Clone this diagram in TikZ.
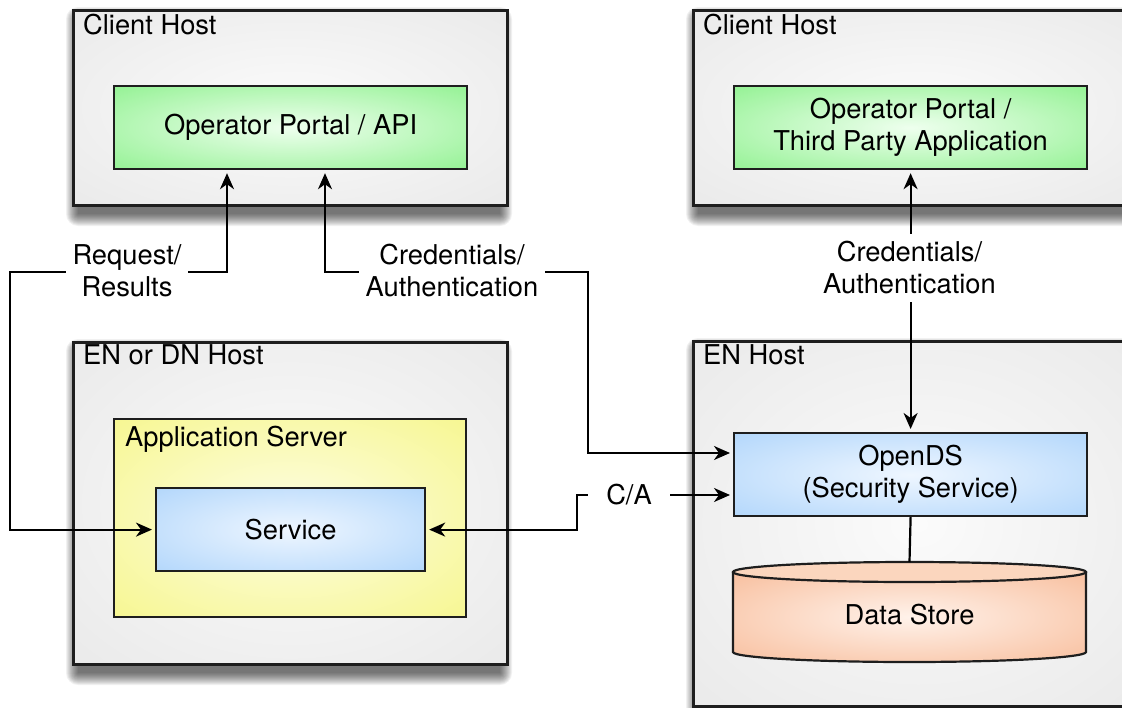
\documentclass[tikz,border=0pt]{standalone}
\usepackage{fontspec}
\setmainfont{TeX Gyre Heros}
\usetikzlibrary{arrows.meta}

\definecolor{boxline}{RGB}{30,30,30}
\definecolor{grayIn}{RGB}{251,251,251}
\definecolor{grayOut}{RGB}{229,229,229}
\definecolor{greenIn}{RGB}{238,255,238}
\definecolor{greenOut}{RGB}{122,238,122}
\definecolor{blueIn}{RGB}{238,246,255}
\definecolor{blueOut}{RGB}{162,206,250}
\definecolor{yellowIn}{RGB}{253,253,228}
\definecolor{yellowOut}{RGB}{245,245,122}
\definecolor{orangeIn}{RGB}{255,242,234}
\definecolor{orangeOut}{RGB}{246,176,136}
\definecolor{orangeTop}{RGB}{251,214,190}

\pgfdeclareradialshading{grayshade}{\pgfpointorigin}{color(0bp)=(grayIn); color(46bp)=(grayOut); color(50bp)=(grayOut)}
\pgfdeclareradialshading{greenshade}{\pgfpointorigin}{color(0bp)=(greenIn); color(46bp)=(greenOut); color(50bp)=(greenOut)}
\pgfdeclareradialshading{blueshade}{\pgfpointorigin}{color(0bp)=(blueIn); color(46bp)=(blueOut); color(50bp)=(blueOut)}
\pgfdeclareradialshading{yellowshade}{\pgfpointorigin}{color(0bp)=(yellowIn); color(46bp)=(yellowOut); color(50bp)=(yellowOut)}
\pgfdeclareradialshading{orangeshade}{\pgfpointorigin}{color(0bp)=(orangeIn); color(46bp)=(orangeOut); color(50bp)=(orangeOut)}

\newcommand{\hostshadow}[4]{%
  \foreach \r in {0,...,12}{%
    \fill[black, opacity=0.055, rounded corners=\r pt]
      ({#1+6-\r},{#2+10-\r}) rectangle ({#3-6+\r},{#4+10+\r});}}

\begin{document}
\begin{tikzpicture}[x=1pt,y=-1pt,
  font=\fontsize{27.3}{32}\selectfont,
  >={Stealth[length=16pt,width=14pt,inset=5pt]},
  host/.style={draw=boxline, line width=2.5pt, shading=grayshade,
    anchor=north west, inner sep=0pt},
  inbox/.style={draw=boxline, line width=2.2pt, anchor=north west, inner sep=0pt, align=center},
  greenbox/.style={inbox, shading=greenshade},
  bluebox/.style={inbox, shading=blueshade},
  yellowbox/.style={inbox, shading=yellowshade},
  title/.style={anchor=base west, inner sep=0pt},
  lab/.style={fill=white, align=center, inner xsep=7pt, inner ysep=8pt},
  conn/.style={line width=2.2pt, shorten >=3pt, shorten <=3pt},
  plain/.style={line width=2.2pt}
]
\useasboundingbox (0,0) rectangle (1122,707);
\fill[white] (0,0) rectangle (1122,707);

% shadows of the host boxes
\hostshadow{72}{9}{506}{204}
\hostshadow{692}{9}{1142}{204}
\hostshadow{72}{341}{506}{663}
\hostshadow{692}{340}{1142}{705}

% hosts
\node[host, minimum width=434, minimum height=195] (ch1) at (72,9) {};
\node[host, minimum width=450, minimum height=195] (ch2) at (692,9) {};
\node[host, minimum width=434, minimum height=322] (en1) at (72,341) {};
\node[host, minimum width=450, minimum height=365] (en2) at (692,340) {};

\node[title] (t1) at ([xshift=11pt,yshift=-25pt]ch1.north west) {Client Host};
\node[title] (t2) at ([xshift=11pt,yshift=-25pt]ch2.north west) {Client Host};
\node[title] (t3) at ([xshift=11pt,yshift=-23pt]en1.north west) {EN or DN Host};
\node[title] (t4) at ([xshift=11pt,yshift=-24pt]en2.north west) {EN Host};

% inner boxes
\node[greenbox, minimum width=353, minimum height=83] (op1) at (113,85) {Operator Portal / API};
\node[greenbox, minimum width=353, minimum height=83] (op2) at (733,85) {Operator Portal /\\Third Party Application};
\node[yellowbox, minimum width=352, minimum height=198] (app) at (113,418) {};
\node[title] (t5) at ([xshift=12pt,yshift=-28pt]app.north west) {Application Server};
\node[bluebox, minimum width=269, minimum height=83] (svc) at (155,487) {Service};
\node[bluebox, minimum width=353, minimum height=83] (ods) at (733,432) {OpenDS\\(Security Service)};

% data store cylinder
\path[shading=orangeshade] (733,572) -- (733,652) arc[start angle=180, end angle=0, x radius=176.5, y radius=10] -- (1086,572) -- cycle;
\draw[line width=2.2pt, draw=boxline] (733,572) -- (733,652) arc[start angle=180, end angle=0, x radius=176.5, y radius=10] -- (1086,572);
\draw[line width=2.2pt, draw=boxline, fill=orangeTop] (909.5,572) ellipse[x radius=176.5, y radius=10];
\coordinate (dstop) at (909.5,562);
\node (ds) at (909.5,615) {Data Store};

% connector coordinates
\coordinate (rr) at (10,272);
\coordinate (k1) at (227,272);
\coordinate (k2) at (325,272);
\coordinate (k3) at (588,272);
\coordinate (k5) at (588,453);
\coordinate (k4) at (577,495);

% connectors
\draw[conn,<->] (op1.south -| k1) -- (k1) -- (rr) |- (svc.west);
\draw[conn,<->] (op1.south -| k2) -- (k2) -- (k3) -- (k5) -- (k5 -| ods.west);
\draw[conn,<->] (svc.east) -- (svc.east -| k4) -- (k4) -- (k4 -| ods.west);
\draw[conn,<->] (op2.south) -- (ods.north);
\draw[plain] (ods.south) -- (dstop);

% labels
\node[lab] (l1) at (127,271) {Request/\\Results};
\node[lab] (l2) at (452,271) {Credentials/\\Authentication};
\node[lab] (l3) at (909.5,268) {Credentials/\\Authentication};
\node[lab, minimum width=82] (l4) at (629,495) {C/A};
\end{tikzpicture}
\end{document}
